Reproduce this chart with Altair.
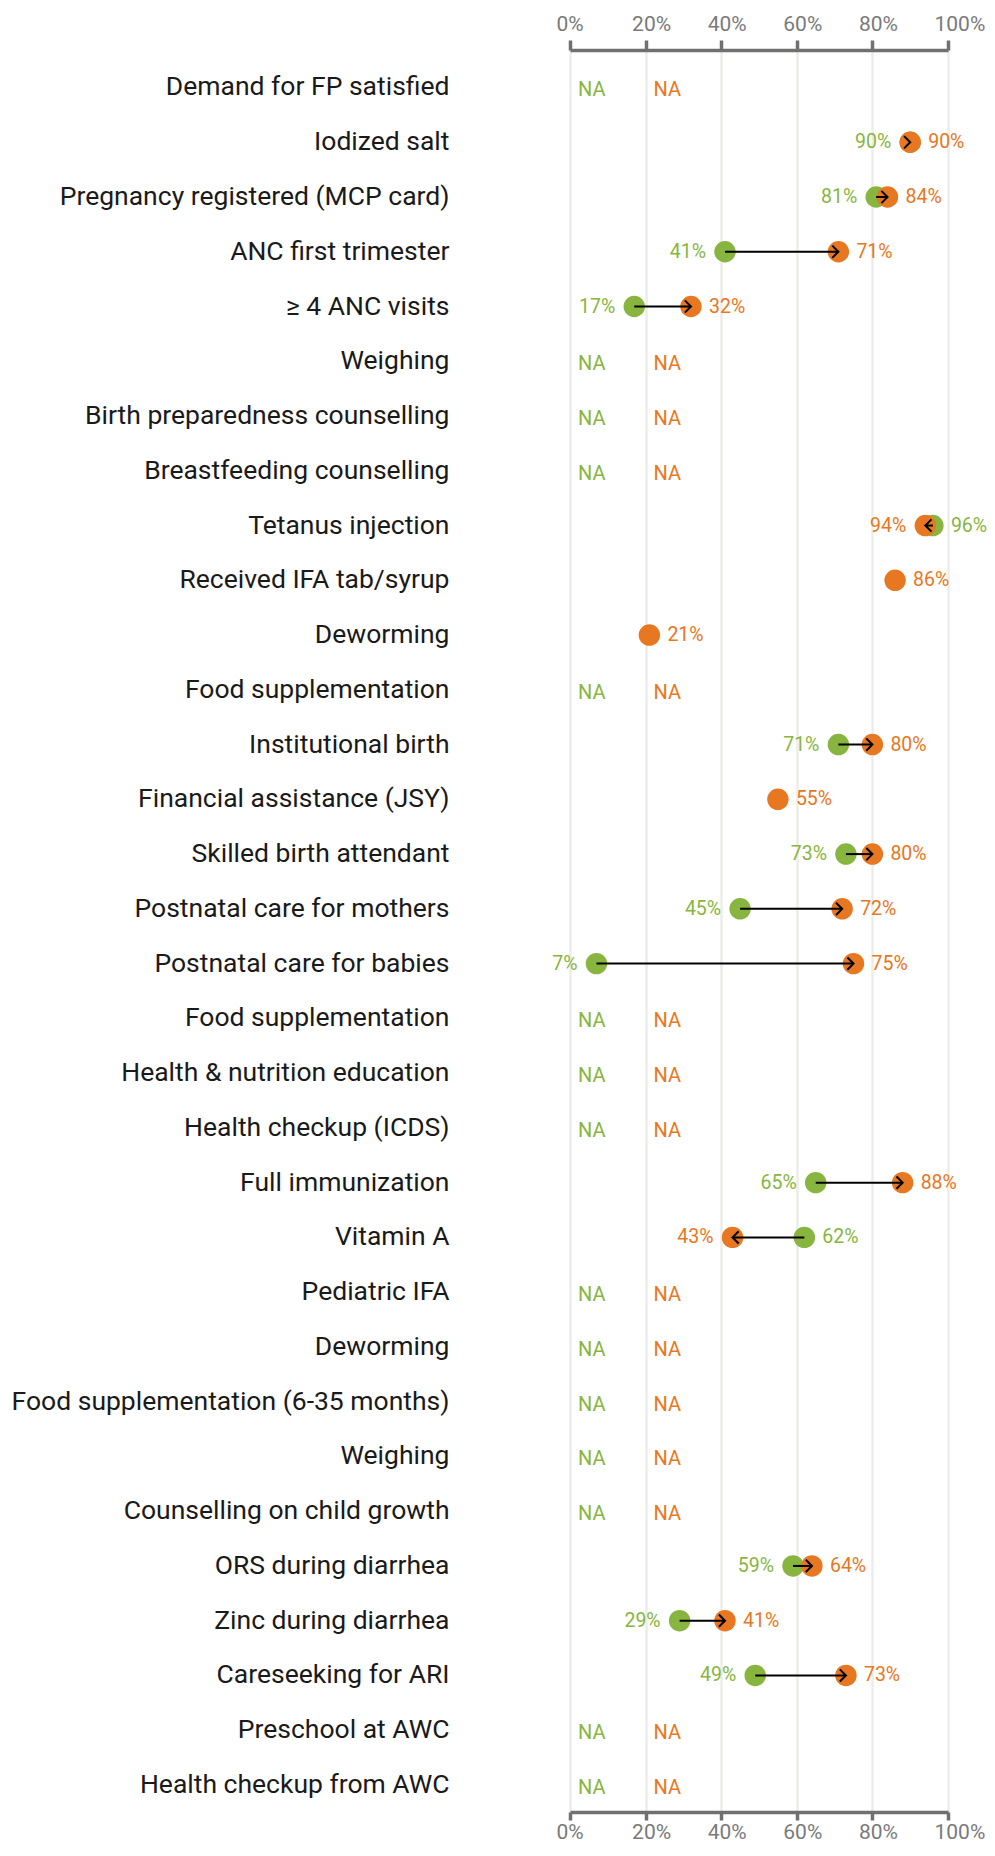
import altair as alt
import pandas as pd

labels = [
    "Demand for FP satisfied", "Iodized salt", "Pregnancy registered (MCP card)",
    "ANC first trimester", "≥ 4 ANC visits", "Weighing",
    "Birth preparedness counselling", "Breastfeeding counselling", "Tetanus injection",
    "Received IFA tab/syrup", "Deworming", "Food supplementation",
    "Institutional birth", "Financial assistance (JSY)", "Skilled birth attendant",
    "Postnatal care for mothers", "Postnatal care for babies", "Food supplementation",
    "Health & nutrition education", "Health checkup (ICDS)", "Full immunization",
    "Vitamin A", "Pediatric IFA", "Deworming",
    "Food supplementation (6-35 months)", "Weighing", "Counselling on child growth",
    "ORS during diarrhea", "Zinc during diarrhea", "Careseeking for ARI",
    "Preschool at AWC", "Health checkup from AWC",
]
# "NA" = shown as NA text, None = not shown
green = ["NA", 90, 81, 41, 17, "NA", "NA", "NA", 96, None, None, "NA",
         71, None, 73, 45, 7, "NA", "NA", "NA", 65, 62, "NA", "NA",
         "NA", "NA", "NA", 59, 29, 49, "NA", "NA"]
orange = ["NA", 90, 84, 71, 32, "NA", "NA", "NA", 94, 86, 21, "NA",
          80, 55, 80, 72, 75, "NA", "NA", "NA", 88, 43, "NA", "NA",
          "NA", "NA", "NA", 64, 41, 73, "NA", "NA"]
ticks = [0, 20, 40, 60, 80, 100]

GREEN = "#88b540"
ORANGE = "#e87722"
NA_POS = {"green": 0, "orange": 20}

series = {"green": green, "orange": orange}


def is_num(v):
    return isinstance(v, (int, float))


pts, nas, arrows = [], [], []
n = len(labels)
for i in range(n):
    for s, other in (("green", "orange"), ("orange", "green")):
        v = series[s][i]
        o = series[other][i]
        if v == "NA":
            nas.append(dict(row=i, series=s, pos=NA_POS[s], text="NA"))
        elif is_num(v):
            left = is_num(o) and (v < o or (v == o and s == "green"))
            pts.append(dict(row=i, series=s, value=v, text=f"{v}%",
                            side="left" if left else "right"))
    g, o = green[i], orange[i]
    if is_num(g) and is_num(o):
        arrows.append(dict(row=i, start=g, end=o, angle=0 if o >= g else 180))

df_pts = pd.DataFrame(pts)
df_na = pd.DataFrame(nas)
df_arr = pd.DataFrame(arrows)
df_lab = pd.DataFrame(dict(row=list(range(n)), label=labels))

yenc = alt.Y("row:O",
             scale=alt.Scale(type="point", domain=list(range(n)), padding=0.589, align=0.581),
             axis=None)
xscale = alt.Scale(domain=[0, 100], nice=False, zero=False)
color = alt.Color("series:N", scale=alt.Scale(domain=["green", "orange"], range=[GREEN, ORANGE]),
                  legend=None)

axis_common = dict(values=ticks, labelExpr="datum.value + '%'", labelFont="Roboto",
                   labelFontSize=21, labelColor="#7a7a7a", domainColor="#707070",
                   domainWidth=3.5, tickColor="#707070", tickWidth=3.5,
                   labelAlign="left", labelOffset=-14, labelFlush=False, title=None)
axis_bottom = alt.Axis(orient="bottom", grid=True, gridColor="#eeece9", gridWidth=2.5,
                       tickSize=8, labelPadding=1, **axis_common)
axis_top = alt.Axis(orient="top", grid=False, tickSize=10, labelPadding=6, **axis_common)

green_dots = alt.Chart(df_pts).transform_filter("datum.series == 'green'").mark_circle(
    size=460, opacity=1).encode(
    x=alt.X("value:Q", scale=xscale, axis=axis_bottom), y=yenc, color=color)
orange_dots = alt.Chart(df_pts).transform_filter("datum.series == 'orange'").mark_circle(
    size=460, opacity=1).encode(
    x=alt.X("value:Q", scale=xscale, axis=axis_top), y=yenc, color=color)

rules = alt.Chart(df_arr).mark_rule(color="black", strokeWidth=2).encode(
    x=alt.X("start:Q", scale=xscale, axis=None), x2="end:Q", y=yenc)
heads = alt.Chart(df_arr).mark_point(
    shape="M-1,-1L0,0L-1,1", filled=False, size=150, strokeWidth=2,
    color="black", opacity=1).encode(
    x=alt.X("end:Q", scale=xscale, axis=None), y=yenc,
    angle=alt.Angle("angle:Q", scale=None))

left_txt = alt.Chart(df_pts).transform_filter("datum.side == 'left'").mark_text(
    align="right", baseline="middle", dx=-19, font="Roboto", fontSize=19.5).encode(
    x=alt.X("value:Q", scale=xscale, axis=None), y=yenc, text="text:N", color=color)
right_txt = alt.Chart(df_pts).transform_filter("datum.side == 'right'").mark_text(
    align="left", baseline="middle", dx=18, font="Roboto", fontSize=19.5).encode(
    x=alt.X("value:Q", scale=xscale, axis=None), y=yenc, text="text:N", color=color)

na_txt = alt.Chart(df_na).mark_text(
    align="left", baseline="middle", dx=8, dy=3, font="Roboto", fontSize=20).encode(
    x=alt.X("pos:Q", scale=xscale, axis=None), y=yenc, text="text:N", color=color)

cat_txt = alt.Chart(df_lab).mark_text(
    align="right", baseline="middle", font="Roboto", fontSize=26.5, color="#1a1a1a").encode(
    x=alt.value(-120.5), y=yenc, text="label:N")

chart = alt.layer(
    green_dots, orange_dots, rules, heads, left_txt, right_txt, na_txt, cat_txt
).resolve_axis(x="independent").properties(
    width=378, height=1762,
    padding={"left": 562, "top": 42, "right": 39, "bottom": 31},
    autosize=alt.AutoSizeParams(type="none"),
).configure_view(stroke=None)

chart.save("out.html", embed_options={"renderer": "svg", "actions": False})
